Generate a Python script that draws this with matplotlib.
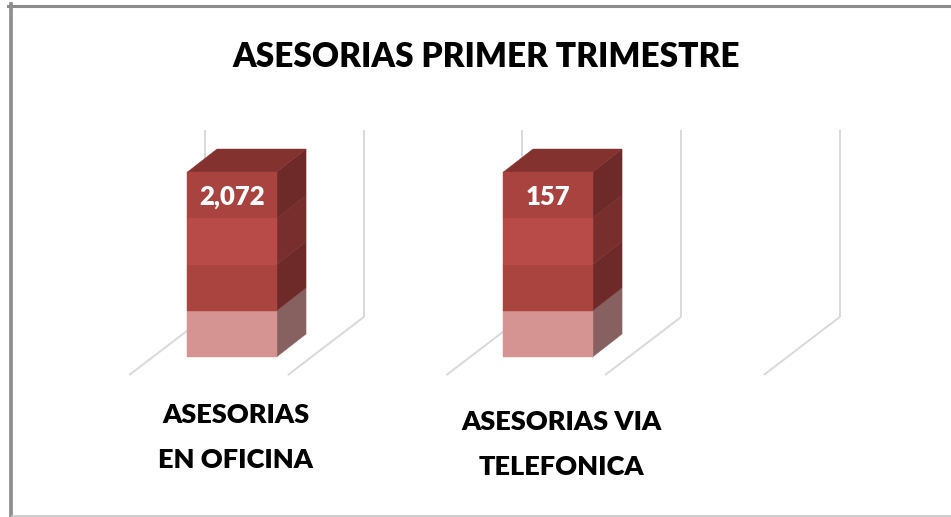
import numpy as np
import matplotlib
matplotlib.use("Agg")
import matplotlib.pyplot as plt
from matplotlib.patches import Polygon, Rectangle
from matplotlib.lines import Line2D

# ---------------- data ----------------
title = "ASESORIAS PRIMER TRIMESTRE"
categories = ["ASESORIAS\nEN OFICINA", "ASESORIAS VIA\nTELEFONICA"]
values = np.array([2072, 157])
# 3-D 100% stacked column with a single series: each column is its category's total
totals = values.astype(float)
shares = values / totals

# ---------------- style ----------------
FONT = ["Lato", "DejaVu Sans"]
FRONT = ["#d59391", "#a9443f", "#b84b48", "#a9433f"]   # gradient bands, bottom -> top
SIDE = ["#876060", "#6e2a28", "#772e2c", "#6e2a28"]
TOP = "#843230"
GRID = "#d9d9d9"

W, H = 951, 517
fig = plt.figure(figsize=(W / 100, H / 100), dpi=100)
fig.patch.set_facecolor("white")
ax = fig.add_axes([0, 0, 1, 1])
PX_X, PX_Y = 316.0, 185.0          # pixels per category / per 100 %
X0_PX, Y0_PX = 232.0, 160.0        # pixel position of category 0 / 0 %
ax.set_xlim(-X0_PX / PX_X, (W - X0_PX) / PX_X)
ax.set_ylim(-Y0_PX / PX_Y, (H - Y0_PX) / PX_Y)
ax.axis("off")

DX, DY = 29.5 / PX_X, 23.0 / PX_Y  # 3-D depth offset

# 3-D category gridlines (back wall + floor)
grid_u = -0.085 + 0.502 * np.arange(5)
g_bot, g_top = 0.216, 1.227
g_fdx, g_fdy = -0.2405, -0.3135
for u in grid_u:
    ax.plot([u, u], [g_bot, g_top], color=GRID, lw=1.4, zorder=1, solid_capstyle="butt")
    ax.plot([u, u + g_fdx], [g_bot, g_bot + g_fdy], color=GRID, lw=1.4, zorder=1,
            solid_capstyle="butt")

x = np.arange(len(categories))
bars = ax.bar(x, shares, width=0.282, color=FRONT[-1], linewidth=0, zorder=3)

nb = len(FRONT)
for bar, v in zip(bars, values):
    x0, w = bar.get_x(), bar.get_width()
    y0, h = bar.get_y(), bar.get_height()
    for k in range(nb):
        b = y0 + h * k / nb
        t = y0 + h * (k + 1) / nb
        ax.add_patch(Rectangle((x0, b), w, t - b, facecolor=FRONT[k], edgecolor=FRONT[k],
                               lw=0.3, zorder=3.2))
        ax.add_patch(Polygon([(x0 + w, b), (x0 + w + DX, b + DY), (x0 + w + DX, t + DY),
                              (x0 + w, t)], closed=True, facecolor=SIDE[k],
                             edgecolor=SIDE[k], lw=0.3, zorder=3.1))
    top = y0 + h
    ax.add_patch(Polygon([(x0, top), (x0 + w, top), (x0 + w + DX, top + DY),
                          (x0 + DX, top + DY)], closed=True, facecolor=TOP,
                         edgecolor=TOP, lw=0.3, zorder=3.1))
    ax.text(x0 + w / 2, top - 0.178, f"{v:,}", ha="center", va="baseline",
            color="white", fontsize=18.5, fontweight="heavy", family=FONT, zorder=5)

# category labels (front of the 3-D floor); va='baseline' anchors the last line
for i, lab in enumerate(categories):
    ax.text(i * 325 / PX_X + 4 / PX_X, -0.600 - 0.036 * i, lab, ha="center",
            va="baseline", fontsize=19.5, fontweight="heavy", family=FONT,
            linespacing=2.05, color="black", zorder=5)

# title
fig.text(486 / W, 1 - 67 / H, title, ha="center", va="baseline", fontsize=24,
         fontweight="heavy", family=FONT, color="black")

# chart frame
fig.add_artist(Line2D([8 / W, 1], [1 - 5.5 / H, 1 - 5.5 / H], transform=fig.transFigure,
                      color="#8c8c8c", lw=2.2))
fig.add_artist(Line2D([10.7 / W, 10.7 / W], [0, 1 - 4 / H], transform=fig.transFigure,
                      color="#8f8f8f", lw=2.7))
fig.add_artist(Line2D([12 / W, 1], [1.2 / H, 1.2 / H], transform=fig.transFigure,
                      color="#c4c4c4", lw=1.2))

fig.savefig("out.png", dpi=100, facecolor="white")
